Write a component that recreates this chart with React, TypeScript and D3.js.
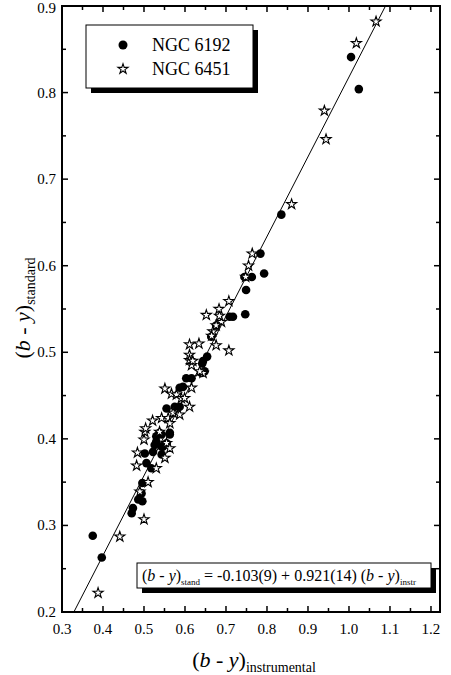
import React from 'react';
import * as d3 from 'd3';

// NGC 6192 (filled circles): [instrumental, standard]
const ngc6192: [number, number][] = [
  [0.375, 0.288], [0.397, 0.263], [0.470, 0.314], [0.473, 0.320], [0.486, 0.330],
  [0.496, 0.328], [0.494, 0.337], [0.496, 0.349], [0.506, 0.372], [0.518, 0.366],
  [0.502, 0.383], [0.522, 0.385], [0.543, 0.382], [0.530, 0.397], [0.543, 0.391],
  [0.555, 0.395], [0.538, 0.407], [0.563, 0.407], [0.526, 0.393], [0.546, 0.391],
  [0.530, 0.403], [0.543, 0.405], [0.563, 0.405], [0.555, 0.435], [0.587, 0.437],
  [0.575, 0.437], [0.587, 0.459], [0.595, 0.460], [0.603, 0.470], [0.616, 0.470],
  [0.640, 0.476], [0.648, 0.478], [0.642, 0.487], [0.644, 0.490], [0.654, 0.495],
  [0.664, 0.518], [0.676, 0.531], [0.709, 0.541], [0.717, 0.541], [0.747, 0.544],
  [0.749, 0.572], [0.745, 0.587], [0.763, 0.587], [0.793, 0.591], [0.784, 0.614],
  [0.835, 0.659], [1.005, 0.841], [1.024, 0.804],
];

// NGC 6451 (open stars)
const ngc6451: [number, number][] = [
  [0.388, 0.222], [0.441, 0.287], [0.500, 0.307], [0.510, 0.350], [0.490, 0.339],
  [0.482, 0.369], [0.530, 0.366], [0.484, 0.384], [0.551, 0.378], [0.500, 0.399],
  [0.502, 0.408], [0.504, 0.412], [0.521, 0.421], [0.538, 0.408], [0.555, 0.395],
  [0.563, 0.389], [0.543, 0.424], [0.559, 0.424], [0.563, 0.418], [0.571, 0.430],
  [0.587, 0.428], [0.611, 0.437], [0.551, 0.458], [0.567, 0.452], [0.579, 0.451],
  [0.591, 0.447], [0.599, 0.447], [0.616, 0.459], [0.644, 0.476], [0.616, 0.485],
  [0.636, 0.478], [0.611, 0.497], [0.611, 0.491], [0.619, 0.490], [0.611, 0.509],
  [0.634, 0.510], [0.668, 0.524], [0.676, 0.508], [0.707, 0.502], [0.689, 0.535],
  [0.684, 0.542], [0.652, 0.543], [0.683, 0.550], [0.707, 0.559], [0.676, 0.531],
  [0.665, 0.519], [0.748, 0.587], [0.755, 0.600], [0.764, 0.614], [0.860, 0.671],
  [0.940, 0.779], [0.944, 0.746], [1.018, 0.857], [1.066, 0.882],
];

const xTicks = [0.3, 0.4, 0.5, 0.6, 0.7, 0.8, 0.9, 1.0, 1.1, 1.2];
const yTicks = [0.2, 0.3, 0.4, 0.5, 0.6, 0.7, 0.8, 0.9];

// fit: (b-y)stand = -0.103 + 0.921 (b-y)instr
const fitA = -0.103;
const fitB = 0.921;

const W = 451;
const H = 675;
const margin = { top: 6, right: 11, bottom: 63, left: 62 };
const serif = "'Liberation Serif', 'DejaVu Serif', serif";

export default function App() {
  const x = d3.scaleLinear().domain([0.3, 1.222]).range([margin.left, W - margin.right]);
  const y = d3.scaleLinear().domain([0.2, 0.9]).range([H - margin.bottom, margin.top]);

  const x0 = x.domain()[0], x1 = x.domain()[1];
  const y0 = y.domain()[0], y1 = y.domain()[1];

  // minor ticks every 0.05
  const xMinor = d3.range(0.35, 1.22, 0.1);
  const yMinor = d3.range(0.25, 0.9, 0.1);

  const fitPts: [number, number][] = [
    [(y0 - fitA) / fitB, y0],
    [(y1 - fitA) / fitB, y1],
  ];
  const line = d3.line<[number, number]>().x(d => x(d[0])).y(d => y(d[1]));

  const star = d3.symbol().type(d3.symbolStar).size(32)();
  const L = x(x0), R = x(x1), T = y(y1), B = y(y0);
  const ts = { fontFamily: serif };

  return (
    <svg width={W} height={H} style={{ position: 'absolute', left: 0, top: 0, background: '#fff', fontFamily: serif }}>
      {/* fit line */}
      <path d={line(fitPts) || ''} stroke="#000" strokeWidth={1} fill="none" />

      {/* points */}
      {ngc6192.map((d, i) => (
        <circle key={'c' + i} cx={x(d[0])} cy={y(d[1])} r={4.3} fill="#000" />
      ))}
      {ngc6451.map((d, i) => (
        <path key={'s' + i} d={star || ''} transform={`translate(${x(d[0])},${y(d[1])})`}
          fill="#fff" stroke="#000" strokeWidth={1.1} />
      ))}

      {/* ticks, pointing inward on all sides */}
      {xTicks.map(t => (
        <g key={'xt' + t}>
          <line x1={x(t)} x2={x(t)} y1={B} y2={B - 6} stroke="#000" strokeWidth={1.5} />
          <line x1={x(t)} x2={x(t)} y1={T} y2={T + 6} stroke="#000" strokeWidth={1.5} />
          <text x={x(t)} y={B + 22} textAnchor="middle" fontSize={15} style={ts}>{t.toFixed(1)}</text>
        </g>
      ))}
      {xMinor.map(t => (
        <g key={'xm' + t}>
          <line x1={x(t)} x2={x(t)} y1={B} y2={B - 4} stroke="#000" strokeWidth={1.5} />
          <line x1={x(t)} x2={x(t)} y1={T} y2={T + 4} stroke="#000" strokeWidth={1.5} />
        </g>
      ))}
      {yTicks.map(t => (
        <g key={'yt' + t}>
          <line x1={L} x2={L + 6} y1={y(t)} y2={y(t)} stroke="#000" strokeWidth={1.5} />
          <line x1={R} x2={R - 6} y1={y(t)} y2={y(t)} stroke="#000" strokeWidth={1.5} />
          <text x={L - 6} y={Math.max(y(t) + 5, 13)} textAnchor="end" fontSize={15} style={ts}>{t.toFixed(1)}</text>
        </g>
      ))}
      {yMinor.map(t => (
        <g key={'ym' + t}>
          <line x1={L} x2={L + 4} y1={y(t)} y2={y(t)} stroke="#000" strokeWidth={1.5} />
          <line x1={R} x2={R - 4} y1={y(t)} y2={y(t)} stroke="#000" strokeWidth={1.5} />
        </g>
      ))}

      {/* frame */}
      <rect x={L} y={T} width={R - L} height={B - T} fill="none" stroke="#000" strokeWidth={2} />

      {/* legend */}
      <rect x={91} y={30} width={167} height={63} fill="#000" />
      <rect x={86} y={25} width={167} height={63} fill="#fff" stroke="#000" strokeWidth={1} />
      <circle cx={123} cy={45} r={4.5} fill="#000" />
      <text x={152} y={51} fontSize={18} style={ts}>NGC 6192</text>
      <path d={star || ''} transform="translate(123,69)" fill="#fff" stroke="#000" strokeWidth={1.1} />
      <text x={152} y={75} fontSize={18} style={ts}>NGC 6451</text>

      {/* equation box */}
      <rect x={142} y={568} width={294} height={25} fill="#000" />
      <rect x={137} y={563} width={294} height={25} fill="#fff" stroke="#000" strokeWidth={1} />
      <text x={142} y={581} fontSize={16} style={ts}>
        (<tspan fontStyle="italic">b</tspan> - <tspan fontStyle="italic">y</tspan>)
        <tspan fontSize={9} dy={4}>stand</tspan>
        <tspan dy={-4}> = -0.103(9) + 0.921(14) (</tspan>
        <tspan fontStyle="italic">b</tspan> - <tspan fontStyle="italic">y</tspan>)
        <tspan fontSize={9} dy={4}>instr</tspan>
      </text>

      {/* axis titles */}
      <text x={254} y={667} textAnchor="middle" fontSize={22} style={ts}>
        (<tspan fontStyle="italic">b</tspan> - <tspan fontStyle="italic">y</tspan>)
        <tspan fontSize={14} dy={5}>instrumental</tspan>
      </text>
      <text transform="translate(30,308) rotate(-90)" textAnchor="middle" fontSize={22} style={ts}>
        (<tspan fontStyle="italic">b</tspan> - <tspan fontStyle="italic">y</tspan>)
        <tspan fontSize={14} dy={5}>standard</tspan>
      </text>
    </svg>
  );
}
